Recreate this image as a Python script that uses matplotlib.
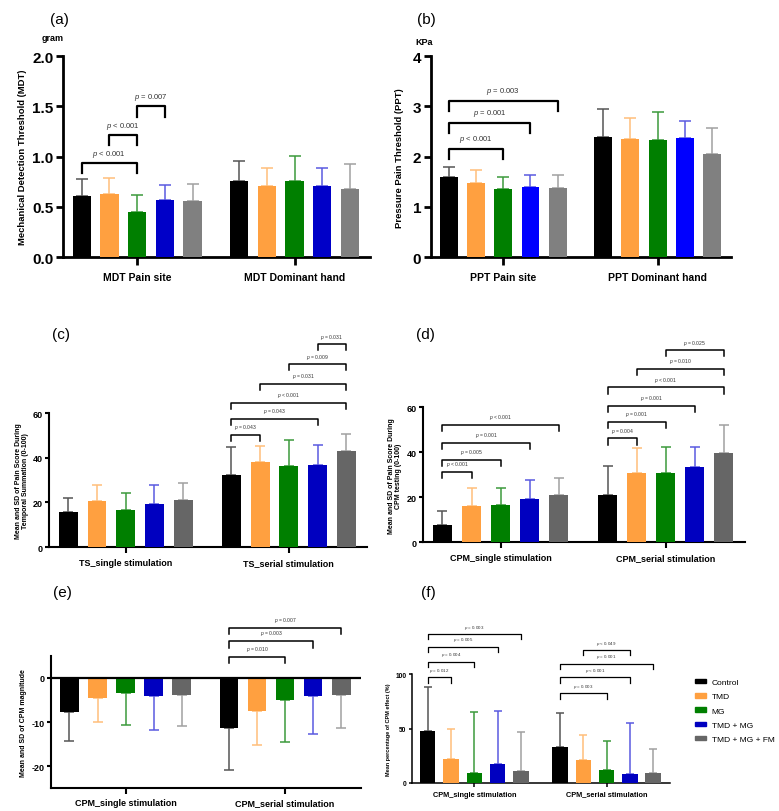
import matplotlib
matplotlib.use("Agg")
import matplotlib.pyplot as plt
import matplotlib.patches as mpatches
import numpy as np

plt.rcParams['font.family'] = ['Liberation Sans', 'DejaVu Sans']
plt.rcParams['axes.unicode_minus'] = False
plt.rcParams['mathtext.fontset'] = 'custom'
plt.rcParams['mathtext.it'] = 'Liberation Sans:italic'

groups_legend = ['Control', 'TMD', 'MG', 'TMD + MG', 'TMD + MG + FM']

# (a) MDT
mdt_cats = ['MDT Pain site', 'MDT Dominant hand']
mdt_pain = [0.61, 0.63, 0.45, 0.57, 0.56]
mdt_pain_sd = [0.17, 0.16, 0.17, 0.15, 0.17]
mdt_dom = [0.76, 0.71, 0.76, 0.71, 0.68]
mdt_dom_sd = [0.20, 0.18, 0.25, 0.18, 0.25]

# (b) PPT
ppt_cats = ['PPT Pain site', 'PPT Dominant hand']
ppt_pain = [1.60, 1.47, 1.35, 1.39, 1.38]
ppt_pain_sd = [0.19, 0.27, 0.24, 0.24, 0.25]
ppt_dom = [2.39, 2.35, 2.33, 2.38, 2.06]
ppt_dom_sd = [0.56, 0.42, 0.56, 0.33, 0.52]

# (c) TS
ts_cats = ['TS_single stimulation', 'TS_serial stimulation']
ts_single = [15.7, 20.6, 16.7, 19.3, 21.1]
ts_single_sd = [6.5, 7.0, 7.7, 8.7, 7.5]
ts_serial = [32.4, 38.2, 36.2, 36.6, 42.9]
ts_serial_sd = [12.6, 7.2, 11.6, 9.2, 7.8]

# (d) CPM pain score
cpm_cats = ['CPM_single stimulation', 'CPM_serial stimulation']
cpm_single = [7.8, 16.0, 16.7, 19.3, 21.0]
cpm_single_sd = [6.2, 8.0, 7.5, 8.5, 7.5]
cpm_serial = [21.0, 30.6, 31.0, 33.4, 39.5]
cpm_serial_sd = [12.8, 11.2, 11.2, 9.2, 12.5]

# (e) CPM magnitude
mag_single = [-7.7, -4.5, -3.3, -4.2, -3.9]
mag_single_sd = [6.5, 5.5, 7.3, 7.7, 7.1]
mag_serial = [-11.3, -7.5, -5.1, -4.2, -3.9]
mag_serial_sd = [9.5, 7.8, 9.4, 8.5, 7.4]

# (f) CPM effect %
eff_single = [47.5, 22.0, 9.5, 17.5, 11.0]
eff_single_sd = [40.5, 27.5, 55.5, 48.5, 35.5]
eff_serial = [33.0, 21.5, 12.0, 8.0, 9.0]
eff_serial_sd = [31.5, 22.5, 27.0, 47.0, 22.5]

# significance brackets: (group, bar i, bar j, height, text)
sig_a = [(0, 0, 2, 0.94, '$p$ < 0.001'), (0, 1, 2, 1.22, '$p$ < 0.001'),
         (0, 2, 3, 1.50, '$p$ = 0.007')]
sig_b = [(0, 0, 2, 2.15, '$p$ < 0.001'), (0, 0, 3, 2.67, '$p$ = 0.001'),
         (0, 0, 4, 3.11, '$p$ = 0.003')]
sig_c = [(1, 0, 1, 50.2, '$p$ = 0.043'), (1, 0, 3, 57.4, '$p$ = 0.043'),
         (1, 0, 4, 64.5, '$p$ < 0.001'), (1, 1, 4, 73.2, '$p$ = 0.031'),
         (1, 2, 4, 81.9, '$p$ = 0.009'), (1, 3, 4, 90.9, '$p$ = 0.031')]
sig_d = [(0, 0, 1, 31.3, '$p$ < 0.001'), (0, 0, 2, 36.6, '$p$ = 0.005'),
         (0, 0, 3, 44.2, '$p$ = 0.001'), (0, 0, 4, 52.4, '$p$ < 0.001'),
         (1, 0, 1, 46.2, '$p$ = 0.004'), (1, 0, 2, 53.5, '$p$ = 0.001'),
         (1, 0, 3, 60.8, '$p$ = 0.001'), (1, 0, 4, 68.9, '$p$ < 0.001'),
         (1, 1, 4, 77.1, '$p$ = 0.010'), (1, 2, 4, 85.5, '$p$ = 0.025')]
sig_e = [(1, 0, 2, 4.8, '$p$ = 0.010'), (1, 0, 3, 8.3, '$p$ = 0.003'),
         (1, 0, 4, 11.4, '$p$ = 0.007')]
sig_f = [(0, 0, 1, 97.0, '$p$ = 0.012'), (0, 0, 2, 111.6, '$p$ = 0.004'),
         (0, 0, 3, 125.3, '$p$ = 0.005'), (0, 0, 4, 136.9, '$p$ = 0.003'),
         (1, 0, 2, 82.3, '$p$ = 0.003'), (1, 0, 3, 97.0, '$p$ < 0.001'),
         (1, 0, 4, 109.8, '$p$ = 0.001'), (1, 1, 3, 122.3, '$p$ < 0.049')]

colors_ab = ['#000000', '#FFA040', '#007F00', '#0000C8', '#808080']
colors_b = ['#000000', '#FFA040', '#007F00', '#0000FF', '#808080']
colors_cf = ['#000000', '#FFA040', '#007F00', '#0000C0', '#666666']
ecolors = ['#555555', '#FFBE7A', '#3C9A3C', '#5A5AE0', '#A0A0A0']

gap = 5.68
xs = [np.arange(5), np.arange(5) + gap]


def draw_panel(ax, vals, sds, colors, down=False, spine_lw=1.5, cap=3.5):
    for g in range(2):
        ax.bar(xs[g], vals[g], width=0.66, color=colors, zorder=3)
        for k in range(5):
            if down:
                err = [[sds[g][k]], [0]]
            else:
                err = [[0], [sds[g][k]]]
            ax.errorbar(xs[g][k], vals[g][k], yerr=err, fmt='none',
                        ecolor=ecolors[k], elinewidth=1.1, capsize=cap,
                        capthick=1.1, zorder=2)
    ax.set_xlim(-0.67, 10.4)
    ax.spines['top'].set_visible(False)
    ax.spines['right'].set_visible(False)
    ax.spines['left'].set_linewidth(spine_lw)
    ax.spines['bottom'].set_linewidth(spine_lw)
    ax.tick_params(width=spine_lw, direction='out')


def brackets(ax, sigs, drop, tgap, fs, lw):
    for g, i, j, y, txt in sigs:
        x1 = xs[g][i]
        x2 = xs[g][j]
        ax.plot([x1, x1, x2, x2], [y - drop, y, y, y - drop], color='black',
                lw=lw, clip_on=False, zorder=4)
        ax.text((x1 + x2) / 2, y + tgap, txt, ha='center', va='bottom',
                fontsize=fs, color='#333333', clip_on=False)


fig = plt.figure(figsize=(7.79, 8.12), dpi=100)

# (a)
ax = fig.add_axes([0.081, 0.682, 0.394, 0.2475])
draw_panel(ax, [mdt_pain, mdt_dom], [mdt_pain_sd, mdt_dom_sd], colors_ab,
           spine_lw=2.0, cap=4)
ax.set_ylim(0, 2.0)
ax.set_yticks([0, 0.5, 1.0, 1.5, 2.0])
ax.set_yticklabels(['0.0', '0.5', '1.0', '1.5', '2.0'], fontsize=11,
                   fontweight='bold')
ax.set_xticks([2, 2 + gap])
ax.set_xticklabels(mdt_cats, fontsize=7.5, fontweight='bold')
ax.tick_params(axis='x', length=6, pad=5)
ax.tick_params(axis='y', length=5, pad=2)
ax.set_ylabel('Mechanical Detection Threshold (MDT)', fontsize=6.8,
              fontweight='bold', labelpad=4)
brackets(ax, sig_a, 0.1, 0.04, 5.5, 1.6)
fig.text(0.064, 0.975, '(a)', fontsize=11, va='center')
fig.text(0.054, 0.952, 'gram', fontsize=6.5, fontweight='bold', va='center')

# (b)
ax = fig.add_axes([0.553, 0.682, 0.386, 0.2475])
draw_panel(ax, [ppt_pain, ppt_dom], [ppt_pain_sd, ppt_dom_sd], colors_b,
           spine_lw=2.0, cap=4)
ax.set_ylim(0, 4)
ax.set_yticks([0, 1, 2, 3, 4])
ax.set_yticklabels(['0', '1', '2', '3', '4'], fontsize=11, fontweight='bold')
ax.set_xticks([2, 2 + gap])
ax.set_xticklabels(ppt_cats, fontsize=7.5, fontweight='bold')
ax.tick_params(axis='x', length=6, pad=5)
ax.tick_params(axis='y', length=5, pad=2)
ax.set_ylabel('Pressure Pain Threshold (PPT)', fontsize=6.8,
              fontweight='bold', labelpad=6)
brackets(ax, sig_b, 0.19, 0.1, 5.5, 1.6)
fig.text(0.535, 0.975, '(b)', fontsize=11, va='center')
fig.text(0.533, 0.948, 'KPa', fontsize=6.5, fontweight='bold', va='center')

# (c)
ax = fig.add_axes([0.063, 0.325, 0.408, 0.165])
draw_panel(ax, [ts_single, ts_serial], [ts_single_sd, ts_serial_sd],
           colors_cf, spine_lw=1.5, cap=3.5)
ax.set_ylim(0, 60)
ax.set_yticks([0, 20, 40, 60])
ax.set_yticklabels(['0', '20', '40', '60'], fontsize=6.5, fontweight='bold')
ax.set_xticks([2, 2 + gap])
ax.set_xticklabels(ts_cats, fontsize=6.5, fontweight='bold')
ax.tick_params(axis='x', length=4, pad=4)
ax.tick_params(axis='y', length=3, pad=1.5)
ax.set_ylabel('Mean and SD of Pain Score During\nTemporal Summation (0-100)',
              fontsize=5, fontweight='bold', labelpad=3, linespacing=1.0)
brackets(ax, sig_c, 2.8, 1.6, 3.6, 1.1)
fig.text(0.067, 0.587, '(c)', fontsize=11, va='center')

# (d)
ax = fig.add_axes([0.543, 0.331, 0.413, 0.166])
draw_panel(ax, [cpm_single, cpm_serial], [cpm_single_sd, cpm_serial_sd],
           colors_cf, spine_lw=1.5, cap=3.5)
ax.set_ylim(0, 60)
ax.set_yticks([0, 20, 40, 60])
ax.set_yticklabels(['0', '20', '40', '60'], fontsize=6.5, fontweight='bold')
ax.set_xticks([2, 2 + gap])
ax.set_xticklabels(cpm_cats, fontsize=6.5, fontweight='bold')
ax.tick_params(axis='x', length=4, pad=4)
ax.tick_params(axis='y', length=3, pad=1.5)
ax.set_ylabel('Mean and SD of Pain Score During\nCPM testing (0-100)',
              fontsize=5, fontweight='bold', labelpad=3, linespacing=1.0)
brackets(ax, sig_d, 2.8, 1.6, 3.6, 1.1)
fig.text(0.534, 0.587, '(d)', fontsize=11, va='center')

# (e)
ax = fig.add_axes([0.065, 0.028, 0.399, 0.163])
draw_panel(ax, [mag_single, mag_serial], [mag_single_sd, mag_serial_sd],
           colors_cf, down=True, spine_lw=1.5, cap=3.5)
ax.axhline(0, color='black', lw=1.6, zorder=4)
ax.set_ylim(-25, 5)
ax.set_yticks([-20, -10, 0])
ax.set_yticklabels(['-20', '-10', '0'], fontsize=6.5, fontweight='bold')
ax.set_xticks([2, 2 + gap])
ax.set_xticklabels(cpm_cats, fontsize=6.5, fontweight='bold')
ax.tick_params(axis='x', length=4, pad=3)
ax.tick_params(axis='y', length=3, pad=1.5)
ax.set_ylabel('Mean and SD of CPM magnitude', fontsize=5, fontweight='bold',
              labelpad=3)
brackets(ax, sig_e, 1.5, 0.9, 3.6, 1.1)
fig.text(0.068, 0.27, '(e)', fontsize=11, va='center')

# (f)
ax = fig.add_axes([0.529, 0.0345, 0.331, 0.134])
draw_panel(ax, [eff_single, eff_serial], [eff_single_sd, eff_serial_sd],
           colors_cf, spine_lw=1.1, cap=3)
ax.set_ylim(0, 100)
ax.set_yticks([0, 50, 100])
ax.set_yticklabels(['0', '50', '100'], fontsize=4.8, fontweight='bold')
ax.set_xticks([2, 2 + gap])
ax.set_xticklabels(cpm_cats, fontsize=5.3, fontweight='bold')
ax.tick_params(axis='x', length=3, pad=2.5)
ax.tick_params(axis='y', length=2.5, pad=1.5)
ax.set_ylabel('Mean percentage of CPM effect (%)', fontsize=4, fontweight='bold',
              labelpad=3)
brackets(ax, sig_f, 5.0, 3.0, 3.2, 0.9)
fig.text(0.541, 0.27, '(f)', fontsize=11, va='center')

handles = [mpatches.Patch(color=c, label=l) for c, l in zip(colors_cf, groups_legend)]
fig.legend(handles=handles, loc='upper left', bbox_to_anchor=(0.888, 0.167),
           frameon=False, fontsize=6.0, handlelength=1.3, handleheight=0.45,
           labelspacing=0.85, handletextpad=0.7, borderaxespad=0)

fig.savefig('out.png', dpi=100)
